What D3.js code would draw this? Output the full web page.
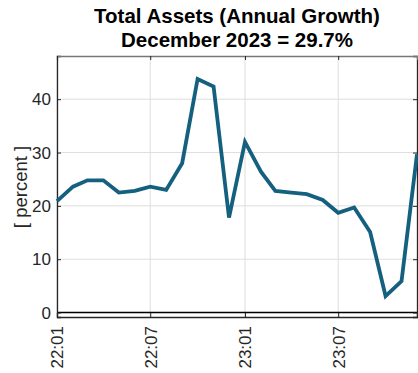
<!DOCTYPE html>
<html>
<head>
<meta charset="utf-8">
<script src="https://cdn.jsdelivr.net/npm/d3@7"></script>
<style>
  body { margin: 0; background: #fff; }
  text { font-family: "Liberation Sans", Arial, sans-serif; }
</style>
</head>
<body>
<div id="chart"></div>
<script>
// monthly annual growth of total assets, Jan 2022 .. Dec 2023
const months = ["2022-01","2022-02","2022-03","2022-04","2022-05","2022-06",
                "2022-07","2022-08","2022-09","2022-10","2022-11","2022-12",
                "2023-01","2023-02","2023-03","2023-04","2023-05","2023-06",
                "2023-07","2023-08","2023-09","2023-10","2023-11","2023-12"];
const growth = [20.9, 23.6, 24.8, 24.8, 22.5, 22.8,
                23.6, 23.0, 28.0, 43.8, 42.4, 17.8,
                32.0, 26.4, 22.8, 22.5, 22.2, 21.1,
                18.7, 19.7, 15.1, 3.1, 5.9, 29.7];
const xTicks = ["2022-01","2022-07","2023-01","2023-07"];
const yTicks = [0, 10, 20, 30, 40];
const titleLines = ["Total Assets (Annual Growth)", "December 2023 = 29.7%"];

const W = 418, H = 373;
const margin = {top: 56, right: 1, bottom: 56, left: 57};
const w = W - margin.left - margin.right, h = H - margin.top - margin.bottom;

const parse = d3.timeParse("%Y-%m");
const fmt = d3.timeFormat("%y:%m");
const data = months.map((m, i) => ({date: parse(m), value: growth[i]}));

const svg = d3.select("#chart").append("svg")
    .attr("width", W).attr("height", H);
const g = svg.append("g")
    .attr("transform", "translate(" + margin.left + "," + margin.top + ")");

const x = d3.scaleTime()
    .domain(d3.extent(data, d => d.date))
    .range([0, w]);
const y = d3.scaleLinear()
    .domain([-0.83, 48.1])
    .range([h, 0]);

// grid
g.append("g").selectAll("line").data(yTicks).enter().append("line")
    .attr("x1", 0).attr("x2", w)
    .attr("y1", d => y(d)).attr("y2", d => y(d))
    .style("stroke", "#dedede").style("stroke-width", 1);
g.append("g").selectAll("line").data(xTicks.map(parse)).enter().append("line")
    .attr("x1", d => x(d)).attr("x2", d => x(d))
    .attr("y1", 0).attr("y2", h)
    .style("stroke", "#dedede").style("stroke-width", 1);

// zero line
g.append("line")
    .attr("x1", 0).attr("x2", w)
    .attr("y1", y(0)).attr("y2", y(0))
    .style("stroke", "#000").style("stroke-width", 1.5);

// axes (ticks inside, box)
const axisColor = "#262626";
const yAxis = g.append("g")
    .call(d3.axisLeft(y).tickValues(yTicks).tickSize(-4).tickPadding(6));
const yAxisR = g.append("g").attr("transform", "translate(" + w + ",0)")
    .call(d3.axisRight(y).tickValues(yTicks).tickSize(-4).tickFormat(""));
const xAxis = g.append("g").attr("transform", "translate(0," + h + ")")
    .call(d3.axisBottom(x).tickValues(xTicks.map(parse)).tickSize(-4).tickFormat(fmt));
const xAxisT = g.append("g")
    .call(d3.axisTop(x).tickValues(xTicks.map(parse)).tickSize(-4).tickFormat(""));

[yAxis, yAxisR, xAxis, xAxisT].forEach(a => {
    a.select(".domain").style("stroke", axisColor).style("stroke-width", 1.3);
    a.selectAll(".tick line").style("stroke", axisColor);
    a.selectAll("text").style("font-size", "17px").style("fill", "#262626")
        .style("font-family", "'Liberation Sans', Arial, sans-serif");
});
xAxisT.select(".domain").style("stroke", "#777");

xAxis.selectAll("text")
    .attr("transform", "rotate(-90)")
    .attr("text-anchor", "end")
    .attr("dy", "0.35em")
    .attr("y", 0)
    .attr("x", -9);

// line
g.append("path")
    .datum(data)
    .attr("d", d3.line().x(d => x(d.date)).y(d => y(d.value)))
    .style("fill", "none")
    .style("stroke", "#15607f")
    .style("stroke-width", 3.8)
    .style("stroke-linejoin", "miter");

// y label
svg.append("text")
    .attr("transform", "translate(27," + 187 + ") rotate(-90)")
    .attr("text-anchor", "middle")
    .style("font-size", "18.5px")
    .style("fill", "#262626")
    .text("[ percent ]");

// title
svg.append("g").selectAll("text").data(titleLines).enter().append("text")
    .attr("x", margin.left + w / 2)
    .attr("y", (d, i) => 22.5 + i * 24)
    .attr("text-anchor", "middle")
    .style("font-size", "20.5px")
    .style("font-weight", "bold")
    .style("fill", "#000")
    .text(d => d);
</script>
</body>
</html>
